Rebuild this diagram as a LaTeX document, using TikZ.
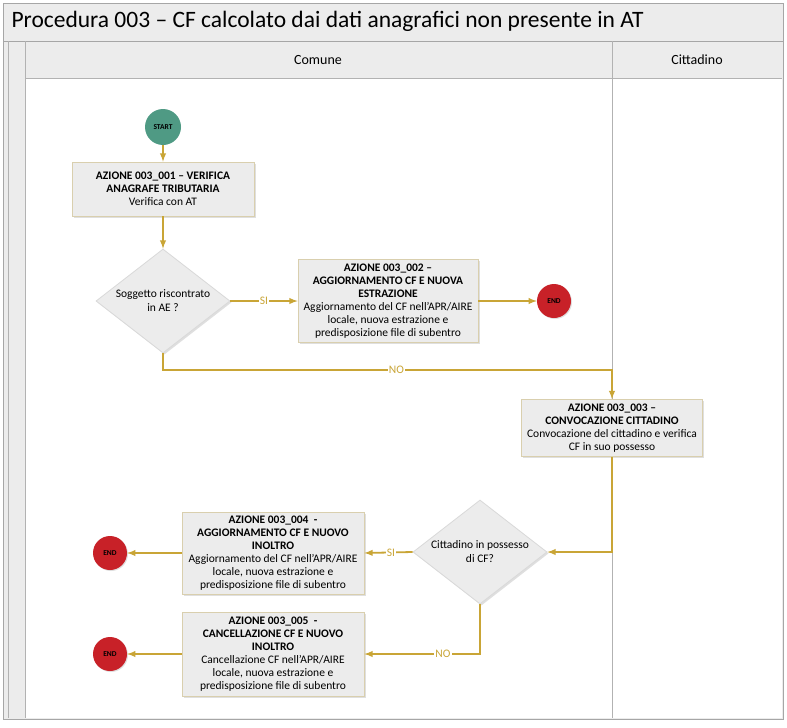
\documentclass[tikz,border=0pt]{standalone}
\usepackage{fontspec}
\setmainfont{Carlito}
\usetikzlibrary{shapes,shadows}
\definecolor{golden}{RGB}{201,165,54}
\definecolor{startgreen}{RGB}{79,154,132}
\definecolor{endred}{RGB}{200,33,40}
\definecolor{boxline}{RGB}{217,207,174}
\definecolor{lanegray}{RGB}{236,236,236}

\begin{document}
\begin{tikzpicture}[x=1pt,y=-1pt]
\useasboundingbox (0,0) rectangle (787,728);
%%%%%%%%%%%%%%%%%%%%%%%%%%%%%%%%%%%%%%%%%%%%%%%%%%%%%%%%%%%%%%
%styles
\tikzstyle{action}=[rectangle,fill=lanegray,draw=boxline,thick,align=center,inner sep=1.5pt,
  font=\fontsize{11.5}{13}\selectfont,drop shadow={shadow xshift=1.5pt,shadow yshift=-1.5pt,opacity=0.25}]
\tikzstyle{decision}=[diamond,fill=lanegray,draw=black!15,thick,align=center,inner sep=0pt,
  shape aspect=1.29,minimum width=134pt,minimum height=104pt,font=\fontsize{11.5}{14}\selectfont,
  drop shadow={shadow xshift=1.5pt,shadow yshift=-1.5pt,opacity=0.25}]
\tikzstyle{startv}=[circle,fill=startgreen,minimum size=36pt,inner sep=0pt,font=\fontsize{7.5}{8}\selectfont\bfseries]
\tikzstyle{endv}=[circle,fill=endred,minimum size=34pt,inner sep=0pt,font=\fontsize{7.5}{8}\selectfont\bfseries,
  drop shadow={shadow xshift=1pt,shadow yshift=-1pt,opacity=0.25}]
\tikzstyle{flow}=[->,>=latex,golden,line width=1.8pt]
\tikzstyle{lbl}=[fill=white,text=golden,inner sep=1pt,font=\fontsize{11.5}{12}\selectfont]
%%%%%%%%%%%%%%%%%%%%%%%%%%%%%%%%%%%%%%%%%%%%%%%%%%%%%%%%%%%%%%
%pool and lanes
\filldraw[fill=lanegray,draw=black!35] (3,3) rectangle (783,719);
\draw[black!35] (3,41) -- (783,41);
\fill[white] (25,78) rectangle (782,718);
\draw[black!30] (8,41) -- (8,718);
\draw[black!30] (25,41) -- (25,718);
\draw[black!30] (25,78) -- (782,78);
\draw[black!30] (612,41) -- (612,718);
\node[anchor=west,font=\fontsize{23.5}{26}\selectfont] (title) at (8,21) {Procedura 003 -- CF calcolato dai dati anagrafici non presente in AT};
\node[font=\fontsize{14}{16}\selectfont] (comune) at (318,60) {Comune};
\node[font=\fontsize{14}{16}\selectfont] (cittadino) at (697,60) {Cittadino};
%nodes
\node[startv] (start) at (163,127) {START};
\node[action,minimum width=182pt,minimum height=54pt] (act1) at (163,189)
  {\textbf{AZIONE 003\_001 -- VERIFICA}\\\textbf{ANAGRAFE TRIBUTARIA}\\Verifica con AT};
\node[decision] (dec1) at (163,301) {Soggetto riscontrato\\in AE ?};
\node[action,minimum width=180pt,minimum height=83pt] (act2) at (388,301)
  {\textbf{AZIONE 003\_002 --}\\\textbf{AGGIORNAMENTO CF E NUOVA}\\\textbf{ESTRAZIONE}\\Aggiornamento del CF nell'APR/AIRE\\locale, nuova estrazione e\\predisposizione file di subentro};
\node[endv] (end1) at (554,301) {END};
\node[action,minimum width=181pt,minimum height=57pt] (act3) at (612,428)
  {\textbf{AZIONE 003\_003 --}\\\textbf{CONVOCAZIONE CITTADINO}\\Convocazione del cittadino e verifica\\CF in suo possesso};
\node[decision] (dec2) at (480,552) {Cittadino in possesso\\di CF?};
\node[action,minimum width=182pt,minimum height=82pt] (act4) at (273,553)
  {\textbf{AZIONE 003\_004\ \ -}\\\textbf{AGGIORNAMENTO CF E NUOVO}\\\textbf{INOLTRO}\\Aggiornamento del CF nell'APR/AIRE\\locale, nuova estrazione e\\predisposizione file di subentro};
\node[endv] (end2) at (110,553) {END};
\node[action,minimum width=182pt,minimum height=84pt] (act5) at (273,654)
  {\textbf{AZIONE 003\_005\ \ -}\\\textbf{CANCELLAZIONE CF E NUOVO}\\\textbf{INOLTRO}\\Cancellazione CF nell'APR/AIRE\\locale, nuova estrazione e\\predisposizione file di subentro};
\node[endv] (end3) at (110,654) {END};
%%%%%%%%%%%%%%%%%%%%%%%%%%%%%%%%%%%%%%%%%%%%%%%%%%%%%%%%%%%%%%
%ARROWS
\draw[flow] (start) -- (act1);
\draw[flow] (act1) -- (dec1);
\draw[flow] (dec1.east) -- node[lbl,pos=0.5]{SI} (act2.west);
\draw[flow] (act2.east) -- (end1);
\draw[flow] (dec1.south) -- (163,370) -| node[lbl,pos=0.26]{NO} (act3.north);
\draw[flow] (act3.south) |- (dec2.east);
\draw[flow] (dec2.west) -- node[lbl,pos=0.45]{SI} (act4.east);
\draw[flow] (act4.west) -- (end2);
\draw[flow] (dec2.south) |- node[lbl,pos=0.66]{NO} (act5.east);
\draw[flow] (act5.west) -- (end3);
\end{tikzpicture}
\end{document}
